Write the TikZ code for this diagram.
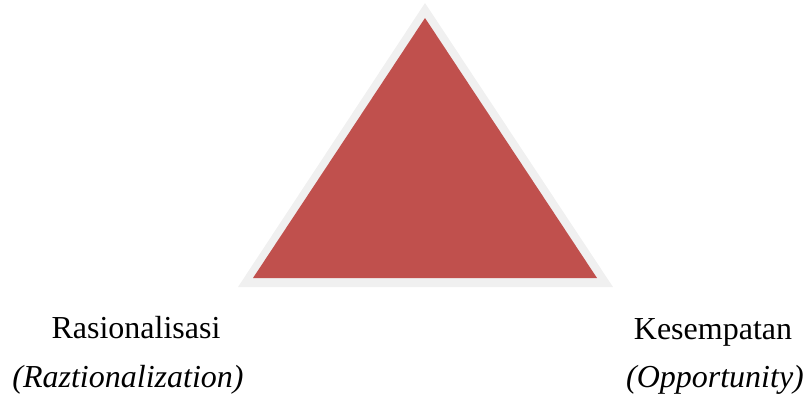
\documentclass[tikz,border=0pt]{standalone}
\usepackage{fontspec}
\setmainfont{Liberation Serif}
\definecolor{tred}{HTML}{C0504D}
\definecolor{tgray}{HTML}{F0F0F0}
\tikzset{lbl/.style={anchor=base,inner sep=0pt,font=\fontsize{32}{38}\selectfont},
ilbl/.style={lbl,font=\fontsize{32}{38}\selectfont\itshape}}
\begin{document}
\begin{tikzpicture}[x=1pt,y=-1pt]
\useasboundingbox (0,0) rectangle (806,400);
\fill[tgray] (425,3) -- (238,287) -- (613,287) -- cycle;
\fill[tred] (425,18) -- (253,278) -- (597,278) -- cycle;
\node[lbl] (r) at (136,338) {Rasionalisasi};
\node[ilbl] (ri) at (128,387) {(Raztionalization)};
\node[lbl] (k) at (713,339) {Kesempatan};
\node[ilbl] (ki) at (715,387) {(Opportunity)};
\end{tikzpicture}
\end{document}
